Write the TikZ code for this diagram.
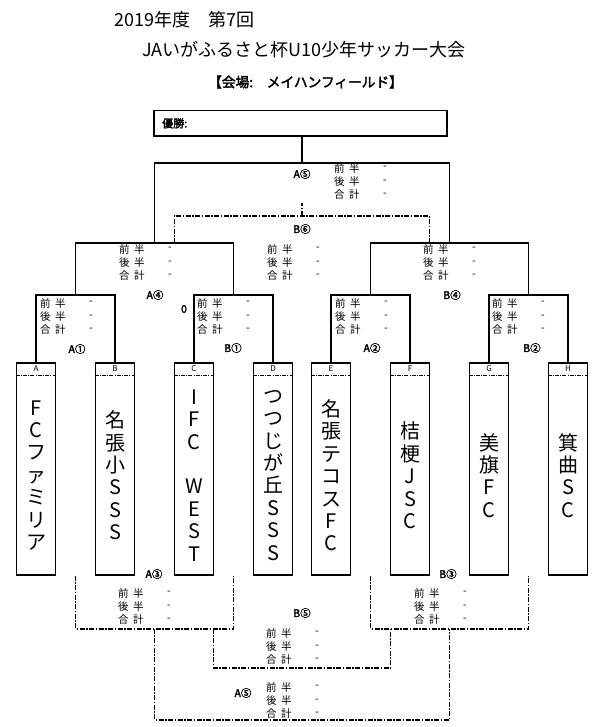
\documentclass[tikz,border=0pt]{standalone}
\usepackage{fontspec}
\setmainfont{Noto Sans CJK JP}[AutoFakeBold=2.5]
\usetikzlibrary{positioning, calc}

\tikzset{
  solidline/.style={line width=1.8pt},
  dashdot/.style={line width=1.5pt, dash pattern=on 5pt off 1.5pt on 1.5pt off 1.5pt},
  team/.style={draw, line width=1.8pt, minimum width=39pt, minimum height=212pt, inner sep=0pt, anchor=north},
  teamletter/.style={font=\fontsize{8}{8}\selectfont, inner sep=0pt},
  teamname/.style={font=\fontsize{20}{22.4}\selectfont, align=center, inner sep=0pt},
  matchtag/.style={font=\bfseries\fontsize{10.5}{10.5}\selectfont, inner sep=0pt},
  half/.style={font=\fontsize{10.5}{10.5}\selectfont, inner sep=0pt, anchor=west},
}

% three score rows: name, x of first column, y of first row
\newcommand{\scoreblock}[3]{%
  \foreach \r/\t in {0/{前\hspace{4.5pt}半}, 1/{後\hspace{4.5pt}半}, 2/{合\hspace{4.5pt}計}} {
    \node[half] (#1-\r) at (#2, {#3+13.5*\r}) {\t};
    \node[half] (#1-d\r) at ({#2+49}, {#3+13.5*\r}) {-};
  }%
}

\begin{document}
\begin{tikzpicture}[x=1pt, y=-1pt]
  \useasboundingbox (0,0) rectangle (600,727);

  % Title
  \node[anchor=west, inner sep=0pt, font=\fontsize{18}{18}\selectfont] (title1) at (114,20) {2019年度　第7回};
  \node[anchor=west, inner sep=0pt, font=\fontsize{18}{18}\selectfont] (title2) at (142,50) {JAいがふるさと杯U10少年サッカー大会};
  \node[anchor=west, inner sep=0pt, font=\bfseries\fontsize{13.7}{13.7}\selectfont] (venue) at (208,82) {【会場:　メイハンフィールド】};

  % Winner box
  \node[draw, solidline, minimum width=293pt, minimum height=25.5pt, inner sep=0pt] (win) at (300.5,123.3) {};
  \node[anchor=west, inner sep=0pt, font=\bfseries\fontsize{11}{11}\selectfont] (winlabel) at ($(win.west)+(9,0)$) {優勝:};

  % Teams
  \foreach \k/\x/\name in {A/36/{F\\C\\フ\\ァ\\ミ\\リ\\ア}, B/115/{名\\張\\小\\S\\S\\S},
      C/194/{I\\F\\C\\\mbox{}\\W\\E\\S\\T}, D/273/{つ\\つ\\じ\\が\\丘\\S\\S\\S},
      E/331/{名\\張\\テ\\コ\\ス\\F\\C}, F/410/{桔\\梗\\J\\S\\C},
      G/489/{美\\旗\\F\\C}, H/568/{箕\\曲\\S\\C}} {
    \node[team] (t\k) at (\x,362) {};
    \node[teamletter] (l\k) at ($(t\k.north)+(0,6.5)$) {\k};
    \draw[line width=0.9pt, dash pattern=on 4pt off 1.2pt on 1pt off 1.2pt]
      ($(t\k.north west)+(0,13)$) -- ($(t\k.north east)+(0,13)$);
    \node[teamname] (n\k) at ($(t\k.center)+(0,6.5)$) {\name};
  }

  % Round of eight
  \foreach \a/\b/\q in {A/B/q1, C/D/q2, E/F/q3, G/H/q4} {
    \draw[solidline] (t\a.north) -- ++(0,-67) -| (t\b.north);
    \coordinate (\q) at ($(t\a.north)!0.5!(t\b.north)+(0,-67)$);
  }

  % Semi-finals
  \draw[solidline] (q1) -- ++(0,-52) -| (q2);
  \coordinate (s1) at ($(q1)!0.5!(q2)+(0,-52)$);
  \draw[solidline] (q3) -- ++(0,-52) -| (q4);
  \coordinate (s2) at ($(q3)!0.5!(q4)+(0,-52)$);

  % Final
  \draw[solidline] (s1) -- ++(0,-80) -| (s2);
  \coordinate (f) at ($(s1)!0.5!(s2)+(0,-80)$);
  \draw[solidline] (f) -- (f |- win.south);

  % Dash-dot match between the semi-finals
  \draw[dashdot] ($(s1)+(20,0)$) -- ++(0,-27) -| ($(s2)+(-20,0)$);
  \coordinate (m6) at ($(s1)!0.5!(s2)+(0,-27)$);
  \draw[dashdot] (m6) -- ++(0,-13);

  % Lower dash-dot brackets
  \draw[dashdot] (q1 |- tA.south) -- ++(0,53) -| (q2 |- tA.south);
  \coordinate (b1) at ($(q1 |- tA.south)!0.5!(q2 |- tA.south)+(0,53)$);
  \draw[dashdot] (q3 |- tE.south) -- ++(0,53) -| (q4 |- tE.south);
  \coordinate (b2) at ($(q3 |- tE.south)!0.5!(q4 |- tE.south)+(0,53)$);
  \draw[dashdot] ($(b1)+(59,0)$) -- ++(0,39) -| ($(b2)+(-59,0)$);
  \draw[dashdot] (b1) -- ++(0,91) -| (b2);

  % Match tags
  \foreach \n/\x/\y/\t in {tA5/302/174/A⑤, tB6/302/229/B⑥, tA4/155/295/A④, tB4/452/295/B④,
      tA1/77/349/A①, tB1/233/348/B①, tA2/372/348/A②, tB2/532/348/B②,
      tA3/154/574/A③, tB3/448/574/B③, tB5/302/613/B⑤, tA5b/243/693/A⑤} {
    \node[matchtag] (\n) at (\x,\y) {\t};
  }
  \node[matchtag] (zero) at (184,309) {0};

  % Score rows
  \scoreblock{sA5}{334}{168}
  \scoreblock{sB6}{267}{249}
  \scoreblock{sA4}{119}{249}
  \scoreblock{sB4}{423}{249}
  \scoreblock{sA1}{40}{303}
  \scoreblock{sB1}{197}{303}
  \scoreblock{sA2}{335}{303}
  \scoreblock{sB2}{492}{303}
  \scoreblock{sA3}{118}{593}
  \scoreblock{sB3}{414}{593}
  \scoreblock{sB5}{266}{633}
  \scoreblock{sA5b}{266}{687}
\end{tikzpicture}
\end{document}
